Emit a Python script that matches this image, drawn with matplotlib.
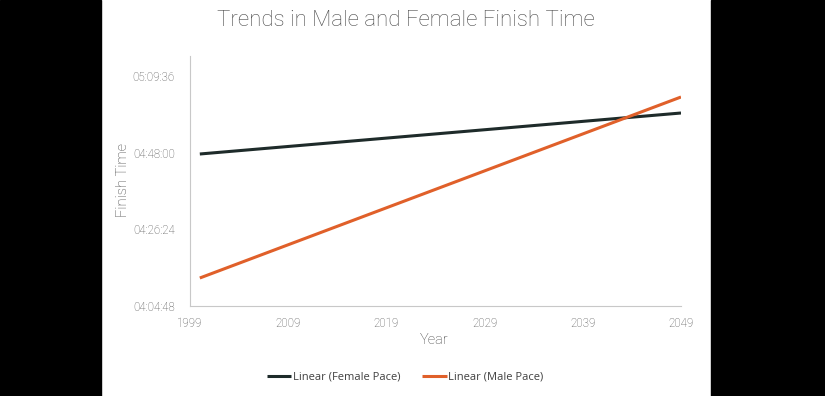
import matplotlib
matplotlib.use("Agg")
import matplotlib.pyplot as plt
from matplotlib.patches import Rectangle
from matplotlib.ticker import FuncFormatter

# Data (finish times in seconds)
years = [2000, 2049]
female_pace = [4*3600 + 47*60 + 36, 4*3600 + 59*60 + 10]
male_pace = [4*3600 + 12*60 + 37, 5*3600 + 3*60 + 41]
x_ticks = [1999, 2009, 2019, 2029, 2039, 2049]
y_ticks = [4*3600 + 4*60 + 48, 4*3600 + 26*60 + 24, 4*3600 + 48*60, 5*3600 + 9*60 + 36]
y_top = 5*3600 + 15*60 + 15
series_labels = ["Linear (Female Pace)", "Linear (Male Pace)"]

W, H = 825, 396
fig = plt.figure(figsize=(W/100, H/100), dpi=100)
fig.patch.set_facecolor("white")
# black side borders
fig.add_artist(Rectangle((0, 0), 101/W, 1, transform=fig.transFigure, color="black", zorder=-1))
fig.add_artist(Rectangle((711/W, 0), 1 - 711/W, 1, transform=fig.transFigure, color="black", zorder=-1))

ax = fig.add_axes([190/W, 1 - 305.7/H, (681-190)/W, (305.7-56)/H])
ax.plot(years, female_pace, color="#1e2b2a", lw=2.2, label=series_labels[0], solid_capstyle="butt")
ax.plot(years, male_pace, color="#e0602a", lw=2.2, label=series_labels[1], solid_capstyle="butt")

ax.set_xlim(1999, 2049)
ax.set_ylim(y_ticks[0], y_top)
ax.set_xticks(x_ticks)
ax.set_yticks(y_ticks)

def fmt(v, pos):
    v = int(round(v))
    return f"{v//3600:02d}:{(v%3600)//60:02d}:{v%60:02d}"
ax.yaxis.set_major_formatter(FuncFormatter(fmt))

for s in ["top", "right"]:
    ax.spines[s].set_visible(False)
for s in ["left", "bottom"]:
    ax.spines[s].set_color("#c8c8c8")
    ax.spines[s].set_linewidth(0.8)
ax.tick_params(length=0, labelsize=8.3, labelcolor="#505050")
ax.tick_params(axis="y", pad=11)
ax.tick_params(axis="x", pad=8)
for lab in ax.get_xticklabels() + ax.get_yticklabels():
    lab.set_family("Roboto")
    lab.set_fontweight("light")

fig.text(406/W, 1 - 20/H, "Trends in Male and Female Finish Time", ha="center", va="center",
         fontsize=16, color="#4a4a4a", family="Roboto", fontweight="light")
fig.text(434/W, 1 - 340/H, "Year", ha="center", va="center", fontsize=10.5,
         color="#404040", family="Roboto", fontweight="light")
fig.text(123/W, 1 - 180/H, "Finish Time", ha="center", va="center", fontsize=10.5,
         color="#404040", family="Roboto", fontweight="light", rotation=90)

leg = fig.legend(loc="center", bbox_to_anchor=(405/W, 1 - 377/H), ncol=2, frameon=False,
                 fontsize=8, handlelength=2.2, handletextpad=0.1, columnspacing=2.0)
for t in leg.get_texts():
    t.set_color("#404040")
    t.set_family("Open Sans")

fig.savefig("out.png", dpi=100, facecolor=fig.get_facecolor())
